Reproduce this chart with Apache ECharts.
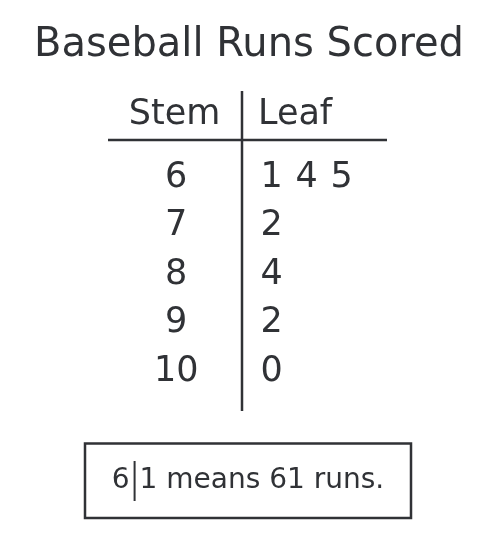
<!DOCTYPE html>
<html>
<head>
<meta charset="utf-8">
<script src="https://cdn.jsdelivr.net/npm/echarts@6/dist/echarts.min.js"></script>
<style>html,body{margin:0;padding:0;background:#fff}#c{width:488px;height:552px}</style>
</head>
<body>
<div id="c"></div>
<script>
const titleText = 'Baseball Runs Scored';
const headers = ['Stem', 'Leaf'];
const stems = ['6', '7', '8', '9', '10'];
const leaves = [[1, 4, 5], [2], [4], [2], [0]];
const keyStem = '6';
const keyLeaf = '1';
const keyRest = ' means 61 runs.';

const INK = '#303236';
const FONT = 'DejaVu Sans';
const STEM_X = -2.73;

const stemData = stems.map(s => [STEM_X, s, s]);
const leafData = [];
leaves.forEach((row, r) => row.forEach((v, i) => leafData.push([i, stems[r], String(v)])));

const chart = echarts.init(document.getElementById('c'), null, {renderer: 'canvas'});
const labelStyle = {
  show: true, position: 'inside', formatter: p => p.data[2],
  color: INK, fontFamily: FONT, fontSize: 35, align: 'center', verticalAlign: 'middle',
  textBorderWidth: 0
};
const hidden = {color: 'rgba(0,0,0,0)', opacity: 1};
chart.setOption({
  backgroundColor: '#fff',
  animation: false,
  title: {
    text: titleText, left: 244, top: 21, textAlign: 'center',
    textStyle: {color: INK, fontFamily: FONT, fontSize: 40, fontWeight: 'normal'}
  },
  grid: {left: 166.7, width: 210, top: 153.25, height: 242.5},
  xAxis: {type: 'value', min: -3, max: 3, show: false},
  yAxis: {type: 'category', data: stems, inverse: true, show: false},
  series: [
    {type: 'scatter', data: stemData, symbolSize: 1, itemStyle: hidden, label: labelStyle, silent: true},
    {type: 'scatter', data: leafData, symbolSize: 1, itemStyle: hidden, label: labelStyle, silent: true}
  ],
  graphic: [
    {type: 'text', x: 174.5, y: 115, style: {text: headers[0], fill: INK, fontFamily: FONT, fontSize: 35, align: 'center', verticalAlign: 'middle'}},
    {type: 'text', x: 258, y: 115, style: {text: headers[1], fill: INK, fontFamily: FONT, fontSize: 35, align: 'left', verticalAlign: 'middle'}},
    {type: 'line', shape: {x1: 108, y1: 140, x2: 387, y2: 140}, style: {stroke: INK, lineWidth: 2.5}},
    {type: 'line', shape: {x1: 242, y1: 91, x2: 242, y2: 411}, style: {stroke: INK, lineWidth: 2.5}},
    {type: 'rect', shape: {x: 85, y: 443.5, width: 326, height: 74.5}, style: {fill: 'none', stroke: INK, lineWidth: 2.5}},
    {type: 'text', x: 248, y: 481, style: {
      text: '{t|' + keyStem + '}{g| }{bar| }{g| }{t|' + keyLeaf + keyRest + '}',
      align: 'center', verticalAlign: 'middle',
      rich: {
        t: {fill: INK, color: INK, fontFamily: FONT, fontSize: 28},
        g: {width: 4, fontSize: 28},
        bar: {width: 2, height: 40, backgroundColor: INK, fontSize: 28}
      }
    }}
  ]
});
</script>
</body>
</html>
